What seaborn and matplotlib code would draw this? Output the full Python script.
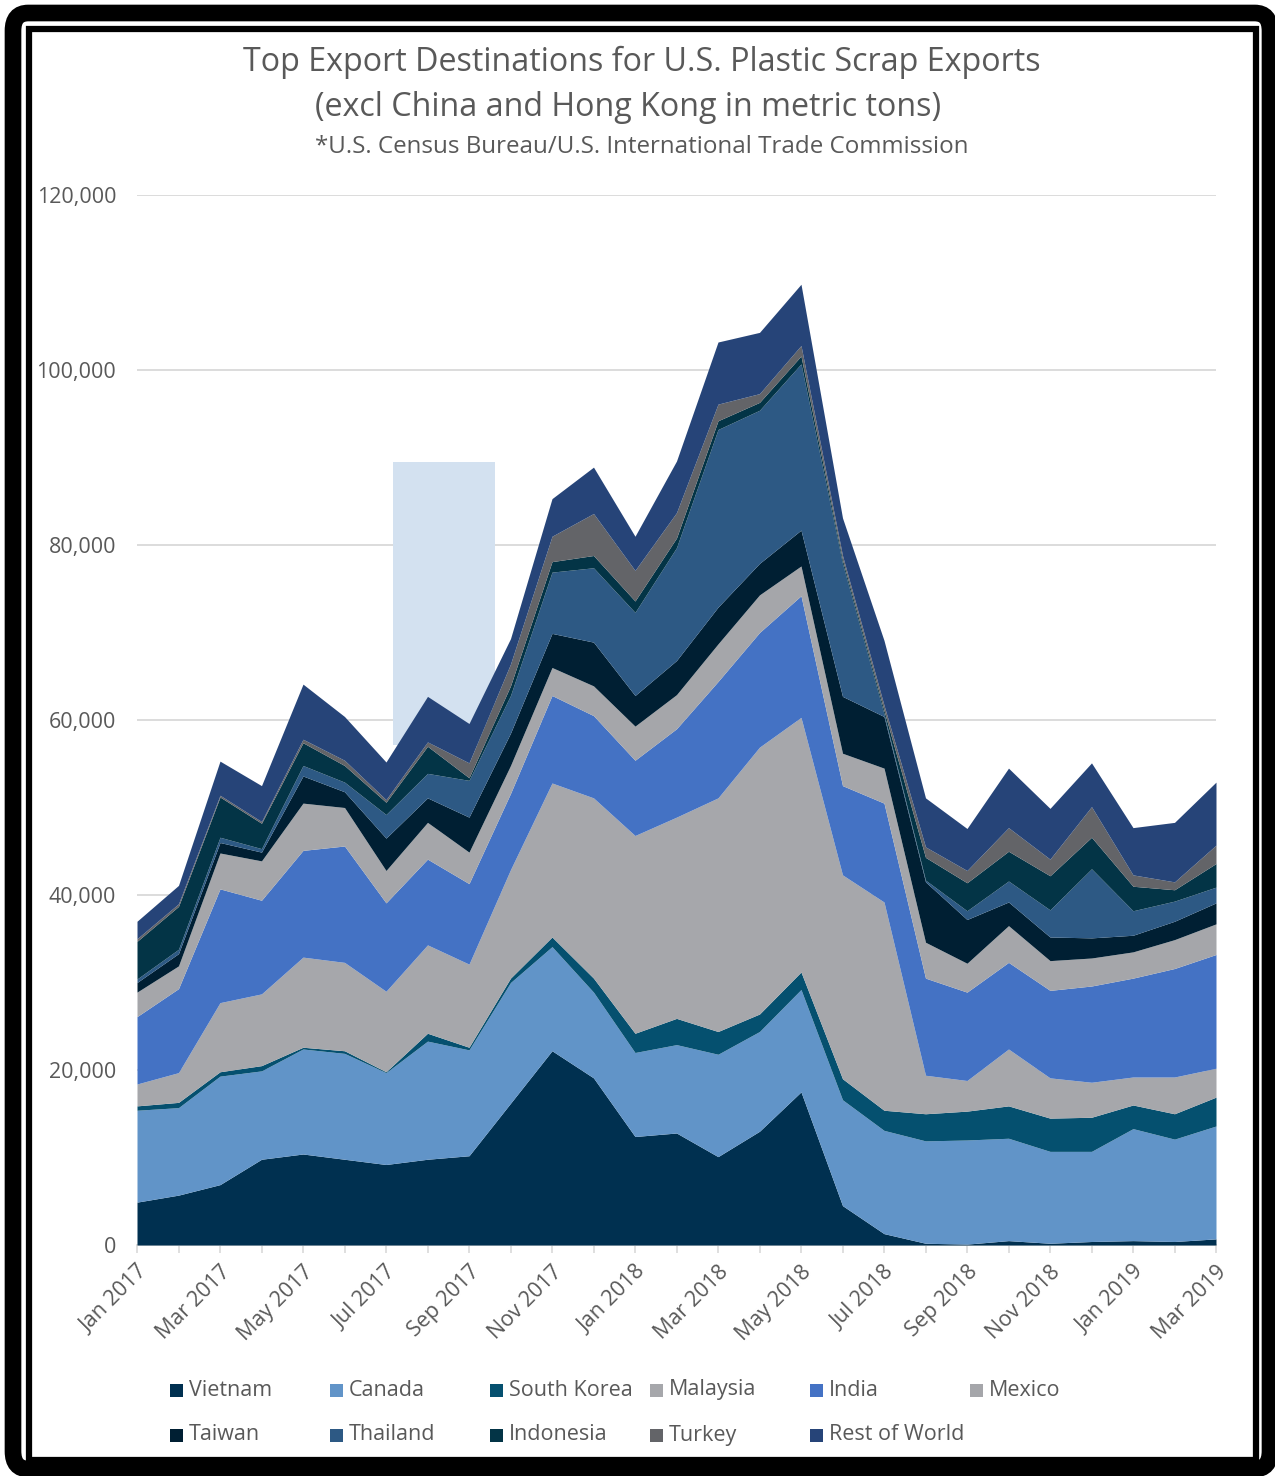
import numpy as np
import pandas as pd
import seaborn as sns
import matplotlib
matplotlib.use("Agg")
import matplotlib.pyplot as plt
from matplotlib.patches import Rectangle, FancyBboxPatch

# ---------------- data (metric tons) ----------------
months = ["Jan 2017", "Feb 2017", "Mar 2017", "Apr 2017", "May 2017", "Jun 2017",
          "Jul 2017", "Aug 2017", "Sep 2017", "Oct 2017", "Nov 2017", "Dec 2017",
          "Jan 2018", "Feb 2018", "Mar 2018", "Apr 2018", "May 2018", "Jun 2018",
          "Jul 2018", "Aug 2018", "Sep 2018", "Oct 2018", "Nov 2018", "Dec 2018",
          "Jan 2019", "Feb 2019", "Mar 2019"]

vietnam = [4900, 5700, 6900, 9800, 10400, 9800, 9200, 9800, 10200, 16200, 22200, 19100,
           12400, 12800, 10100, 13000, 17500, 4500, 1300, 200, 100, 500, 200, 400,
           500, 400, 700]
canada = [10500, 10000, 12400, 10100, 12000, 12100, 10500, 13500, 12100, 13800, 11900, 9800,
          9600, 10100, 11700, 11400, 11700, 12100, 11800, 11700, 11900, 11700, 10500, 10300,
          12800, 11700, 12900]
south_korea = [500, 600, 500, 600, 200, 300, 100, 900, 300, 500, 1100, 1600,
               2200, 3000, 2600, 2000, 2000, 2400, 2300, 3100, 3300, 3700, 3800, 3900,
               2700, 2900, 3300]
malaysia = [2500, 3400, 7900, 8200, 10300, 10100, 9200, 10100, 9500, 12400, 17600, 20600,
            22600, 23000, 26700, 30500, 29100, 23300, 23800, 4400, 3500, 6500, 4600, 4000,
            3200, 4200, 3300]
india = [7700, 9600, 13000, 10700, 12200, 13300, 10100, 9800, 9200, 8700, 10000, 9400,
         8600, 10100, 13300, 13100, 13900, 10200, 11300, 11100, 10100, 9900, 10000, 11000,
         11300, 12400, 13000]
mexico = [2800, 2600, 4100, 4500, 5400, 4400, 3700, 4200, 3600, 3200, 3200, 3400,
          3900, 3900, 4300, 4300, 3400, 3700, 4000, 4100, 3300, 4200, 3400, 3200,
          3000, 3300, 3500]
taiwan = [1100, 1400, 1200, 1000, 3100, 1800, 3700, 2800, 4000, 3700, 3900, 5000,
          3500, 3900, 4200, 3600, 4100, 6500, 5900, 6900, 5000, 2700, 2700, 2300,
          1900, 2100, 2400]
thailand = [400, 500, 600, 400, 1200, 1100, 2700, 2800, 4200, 4300, 7000, 8500,
            9500, 12900, 20300, 17500, 19000, 15200, 300, 200, 1000, 2400, 3100, 7900,
            2800, 2300, 1800]
indonesia = [4300, 4900, 4600, 2900, 2600, 1900, 1400, 3100, 300, 1100, 1200, 1400,
             1300, 1100, 1000, 900, 900, 400, 400, 2600, 3200, 3400, 3900, 3600,
             2800, 1300, 2700]
turkey = [300, 300, 200, 200, 400, 600, 300, 500, 1700, 2500, 2900, 4800,
          3500, 2900, 1900, 1000, 1200, 500, 600, 1200, 1400, 2700, 1900, 3500,
          1300, 900, 2100]
rest_of_world = [2000, 2100, 3900, 4100, 6300, 5000, 4300, 5200, 4500, 2900, 4300, 5300,
                 3900, 5900, 7100, 7000, 7000, 4300, 7400, 5600, 4800, 6800, 5800, 5000,
                 5400, 6800, 7200]

series_names = ["Vietnam", "Canada", "South Korea", "Malaysia", "India", "Mexico",
                "Taiwan", "Thailand", "Indonesia", "Turkey", "Rest of World"]
series_colors = ["#003050", "#6194C8", "#05506F", "#A6A7AB", "#4472C4", "#A5A6AA",
                 "#001F33", "#2D5984", "#033446", "#636468", "#264478"]
y_ticks = [0, 20000, 40000, 60000, 80000, 100000, 120000]

df = pd.DataFrame({
    "Vietnam": vietnam, "Canada": canada, "South Korea": south_korea,
    "Malaysia": malaysia, "India": india, "Mexico": mexico, "Taiwan": taiwan,
    "Thailand": thailand, "Indonesia": indonesia, "Turkey": turkey,
    "Rest of World": rest_of_world,
}, index=months)

# ---------------- style ----------------
sns.set_theme(style="white")
plt.rcParams["font.family"] = ["Open Sans", "DejaVu Sans"]
TXT = "#595959"

W, H = 1275, 1476
fig = plt.figure(figsize=(W / 100, H / 100), dpi=100)
fig.patch.set_facecolor("white")

def fx(px):
    return px / W

def fy(py):
    return 1 - py / H

ax = fig.add_axes([fx(137), fy(1245), fx(1216) - fx(137), fy(195) - fy(1245)])
ax.set_facecolor("none")

# faint watermark block behind the areas
ax.add_patch(Rectangle((fx(393), fy(745)), fx(495) - fx(393), fy(462) - fy(745),
                       transform=fig.transFigure, facecolor="#D3E1F0",
                       edgecolor="none", zorder=1))

x = np.arange(len(months))
ax.stackplot(x, *[df[n].values for n in series_names], colors=series_colors,
             labels=series_names, linewidth=0, zorder=3)

ax.set_xlim(0, len(months) - 1)
ax.set_ylim(0, 120000)
ax.set_yticks(y_ticks)
ax.set_yticklabels([f"{v:,}" for v in y_ticks], fontsize=15.5, color=TXT)
ax.yaxis.grid(True, color="#D9D9D9", linewidth=1.3, zorder=0)
ax.set_axisbelow(True)
ax.tick_params(axis="y", length=0, pad=15)

ax.set_xticks(x)
ax.set_xticklabels([m if i % 2 == 0 else "" for i, m in enumerate(months)],
                   rotation=45, ha="right", rotation_mode="anchor",
                   fontsize=15.5, color=TXT)
ax.tick_params(axis="x", length=6, width=1.2, color="#D9D9D9", pad=6, direction="out",
               bottom=True)
for s in ["top", "right", "left"]:
    ax.spines[s].set_visible(False)
ax.spines["bottom"].set_color("#D9D9D9")
ax.spines["bottom"].set_linewidth(1.3)

# ---------------- titles ----------------
fig.text(fx(642), fy(62), "Top Export Destinations for U.S. Plastic Scrap Exports",
         ha="center", va="center", fontsize=23.2, color=TXT)
fig.text(fx(628), fy(107), "(excl China and Hong Kong in metric tons)",
         ha="center", va="center", fontsize=23.2, color=TXT)
fig.text(fx(642), fy(147), "*U.S. Census Bureau/U.S. International Trade Commission",
         ha="center", va="center", fontsize=17.4, color=TXT)

# ---------------- legend (Excel-style grid) ----------------
col_x = [170, 330, 490, 650, 810, 970]
row_y = [1390, 1435]
for i, (name, col) in enumerate(zip(series_names, series_colors)):
    r, c = divmod(i, 6)
    px, py = col_x[c], row_y[r]
    fig.patches.append(Rectangle((fx(px), fy(py + 6.5)), fx(13), 13 / H,
                                 transform=fig.transFigure, facecolor=col,
                                 edgecolor="none"))
    fig.text(fx(px + 19), fy(py), name, ha="left", va="center", fontsize=15.5, color=TXT)

# ---------------- frame ----------------
outer = FancyBboxPatch((fx(13), fy(1469)), fx(1257), (1469 - 13) / H,
                       boxstyle="round,pad=0,rounding_size=0.012",
                       transform=fig.transFigure, facecolor="none",
                       edgecolor="black", linewidth=12, zorder=10)
fig.patches.append(outer)
inner = Rectangle((fx(29), fy(1459.5)), fx(1255.5 - 29), (1459.5 - 29) / H,
                  transform=fig.transFigure, facecolor="none",
                  edgecolor="black", linewidth=4.5, zorder=10)
fig.patches.append(inner)

fig.savefig("out.png", dpi=100, facecolor="white")
